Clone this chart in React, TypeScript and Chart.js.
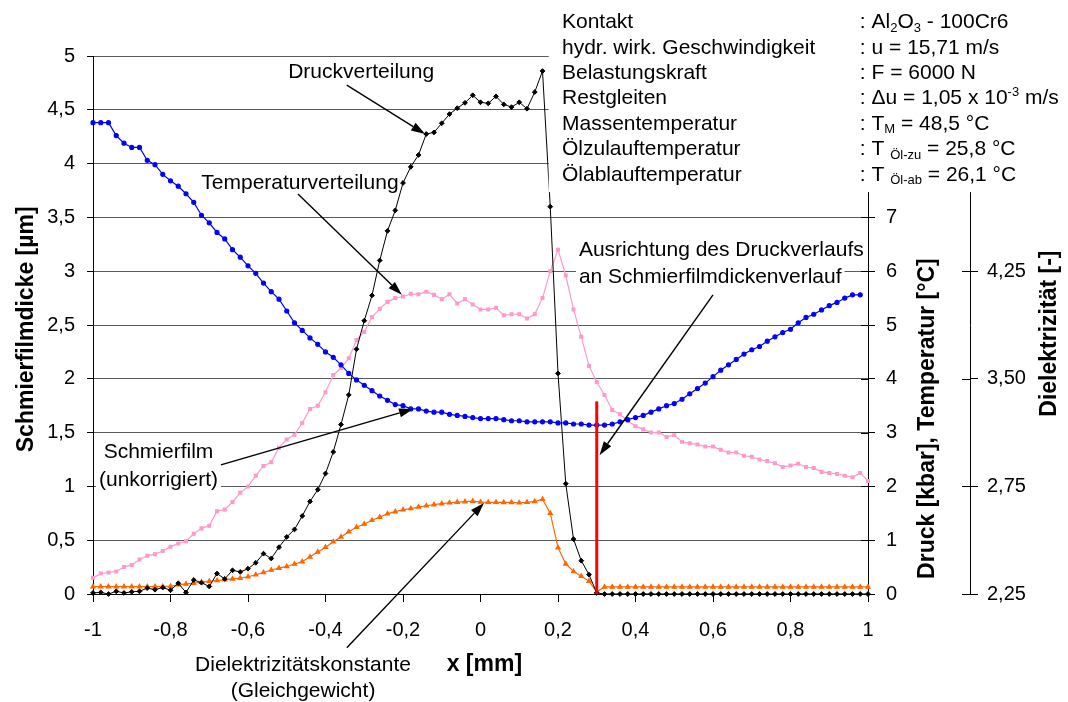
import React, { useEffect, useRef } from "react";
import { Chart, registerables } from "chart.js";

Chart.register(...registerables);

// ---------------- data ----------------
const xPositions = [
  -1, -0.98, -0.96, -0.94, -0.92, -0.9, -0.88, -0.86, -0.84, -0.82,
  -0.8, -0.78, -0.76, -0.74, -0.72, -0.7, -0.68, -0.66, -0.64, -0.62,
  -0.6, -0.58, -0.56, -0.54, -0.52, -0.5, -0.48, -0.46, -0.44, -0.42,
  -0.4, -0.38, -0.36, -0.34, -0.32, -0.3, -0.28, -0.26, -0.24, -0.22,
  -0.2, -0.18, -0.16, -0.14, -0.12, -0.1, -0.08, -0.06, -0.04, -0.02,
  0, 0.02, 0.04, 0.06, 0.08, 0.1, 0.12, 0.14, 0.16, 0.18,
  0.2, 0.22, 0.24, 0.26, 0.28, 0.3, 0.32, 0.34, 0.36, 0.38,
  0.4, 0.42, 0.44, 0.46, 0.48, 0.5, 0.52, 0.54, 0.56, 0.58,
  0.6, 0.62, 0.64, 0.66, 0.68, 0.7, 0.72, 0.74, 0.76, 0.78,
  0.8, 0.82, 0.84, 0.86, 0.88, 0.9, 0.92, 0.94, 0.96, 0.98,
  1,
];

// Schmierfilmdicke [µm] (left axis)
const schmierfilm = [
  4.38, 4.38, 4.38, 4.26, 4.19, 4.15, 4.15, 4.03, 3.99, 3.9,
  3.84, 3.79, 3.72, 3.64, 3.52, 3.45, 3.36, 3.3, 3.2, 3.13,
  3.05, 2.98, 2.89, 2.81, 2.74, 2.63, 2.52, 2.45, 2.38, 2.32,
  2.25, 2.2, 2.13, 2.05, 1.99, 1.94, 1.89, 1.84, 1.8, 1.76,
  1.75, 1.72, 1.72, 1.7, 1.69, 1.69, 1.67, 1.66, 1.65, 1.64,
  1.63, 1.63, 1.63, 1.62, 1.61, 1.61, 1.6, 1.6, 1.6, 1.6,
  1.59, 1.59, 1.58, 1.58, 1.57, 1.57, 1.57, 1.58, 1.6, 1.62,
  1.64, 1.66, 1.69, 1.72, 1.75, 1.77, 1.81, 1.86, 1.91, 1.96,
  2.02, 2.08, 2.13, 2.18, 2.23, 2.27, 2.3, 2.35, 2.39, 2.43,
  2.46, 2.52, 2.57, 2.6, 2.64, 2.68, 2.71, 2.75, 2.78, 2.78,
  null,
];

// Druck [kbar] (right axis)
const druck = [
  0.02, 0.03, 0.0, 0.05, 0.02, 0.04, 0.05, 0.11, 0.08, 0.12,
  0.07, 0.2, 0.03, 0.26, 0.21, 0.14, 0.38, 0.28, 0.44, 0.41,
  0.47, 0.58, 0.75, 0.66, 0.87, 1.06, 1.2, 1.45, 1.72, 1.94,
  2.24, 2.64, 3.15, 3.7, 4.55, 5.08, 5.55, 6.2, 6.75, 7.13,
  7.64, 7.94, 8.16, 8.55, 8.58, 8.75, 8.92, 9.03, 9.13, 9.27,
  9.14, 9.12, 9.25, 9.1, 9.05, 9.14, 9.02, 9.33, 9.72, 7.2,
  4.1, 2.05, 1.02, 0.62, 0.36, 0.02, 0, 0, 0, 0,
  0, 0, 0, 0, 0, 0, 0, 0, 0, 0,
  0, 0, 0, 0, 0, 0, 0, 0, 0, 0,
  0, 0, 0, 0, 0, 0, 0, 0, 0, 0,
  0,
];

// Temperatur [°C] (right axis)
const temperatur = [
  0.3, 0.38, 0.4, 0.42, 0.5, 0.54, 0.64, 0.71, 0.74, 0.8,
  0.88, 0.94, 0.98, 1.12, 1.22, 1.27, 1.54, 1.57, 1.71, 1.88,
  2.0, 2.2, 2.38, 2.45, 2.72, 2.87, 2.96, 3.18, 3.44, 3.5,
  3.75, 4.07, 4.2, 4.38, 4.72, 4.87, 5.15, 5.3, 5.43, 5.5,
  5.53, 5.58, 5.57, 5.62, 5.56, 5.48, 5.57, 5.4, 5.48, 5.38,
  5.29, 5.29, 5.32, 5.18, 5.2, 5.2, 5.12, 5.2, 5.5, 6.0,
  6.4, 5.92, 5.29, 4.78, 4.24, 3.94, 3.7, 3.42, 3.34, 3.22,
  3.12, 3.06, 3.0, 3.0, 2.92, 2.95, 2.83, 2.8, 2.78, 2.74,
  2.74, 2.68, 2.63, 2.63, 2.57, 2.55, 2.5, 2.47, 2.43, 2.36,
  2.39, 2.42, 2.36, 2.34, 2.27, 2.25, 2.23, 2.2, 2.17, 2.25,
  2.1,
];

// Dielektrizitätskonstante [-] (outer right axis)
const dielektrizitaet = [
  2.051, 2.051, 2.051, 2.051, 2.051, 2.051, 2.051, 2.052, 2.052, 2.053,
  2.054, 2.064, 2.07, 2.075, 2.083, 2.089, 2.094, 2.099, 2.105, 2.111,
  2.12, 2.134, 2.15, 2.167, 2.18, 2.192, 2.209, 2.225, 2.259, 2.293,
  2.326, 2.364, 2.398, 2.434, 2.465, 2.488, 2.514, 2.536, 2.559, 2.574,
  2.587, 2.596, 2.606, 2.615, 2.623, 2.63, 2.636, 2.64, 2.644, 2.647,
  2.641, 2.639, 2.639, 2.638, 2.638, 2.636, 2.639, 2.645, 2.66, 2.563,
  2.323, 2.21, 2.158, 2.124, 2.09, 2.015, 2.049, 2.049, 2.049, 2.049,
  2.049, 2.049, 2.049, 2.049, 2.049, 2.049, 2.049, 2.049, 2.049, 2.049,
  2.049, 2.049, 2.049, 2.049, 2.049, 2.049, 2.049, 2.049, 2.049, 2.049,
  2.049, 2.049, 2.049, 2.049, 2.049, 2.049, 2.049, 2.049, 2.049, 2.049,
  2.049,
];

// red marker line (x = 0,3 mm)
const ausrichtungX = [0.3, 0.3];
const ausrichtungY = [0, 1.79];

// axis tick settings / labels
const xTickStep = 0.2;
const filmTickStep = 0.5;
const druckTickStep = 1;
const dielTickStep = 0.75;
const dielTickLabels = ["2,25", "2,75", "3,50", "4,25", "5,00", "5,75"];

// info block
const infoLabels = [
  "Kontakt",
  "hydr. wirk. Geschwindigkeit",
  "Belastungskraft",
  "Restgleiten",
  "Massentemperatur",
  "Ölzulauftemperatur",
  "Ölablauftemperatur",
];
type Seg = { t: string; k?: "sub" | "sup" };
const infoValues: Seg[][] = [
  [{ t: ": Al" }, { t: "2", k: "sub" }, { t: "O" }, { t: "3", k: "sub" }, { t: " - 100Cr6" }],
  [{ t: ": u = 15,71 m/s" }],
  [{ t: ": F = 6000 N" }],
  [{ t: ": \u0394u = 1,05 x 10" }, { t: "-3", k: "sup" }, { t: " m/s" }],
  [{ t: ": T" }, { t: "M", k: "sub" }, { t: " = 48,5 °C" }],
  [{ t: ": T " }, { t: "Öl-zu", k: "sub" }, { t: " = 25,8 °C" }],
  [{ t: ": T " }, { t: "Öl-ab", k: "sub" }, { t: " = 26,1 °C" }],
];

// annotations (positions in data units of x axis / left axis)
const annotations = [
  { lines: ["Druckverteilung"], x: -0.308, y: [4.85], align: "center", bg: false, from: [-0.345, 4.73], to: [-0.143, 4.275] },
  { lines: ["Temperaturverteilung"], x: -0.466, y: [3.82], align: "center", bg: false, from: [-0.471, 3.717], to: [-0.203, 2.78] },
  { lines: ["Schmierfilm", "(unkorrigiert)"], x: -0.831, y: [1.32, 1.06], align: "center", bg: true, from: [-0.67, 1.2], to: [-0.174, 1.72] },
  { lines: ["Dielektrizitätskonstante", "(Gleichgewicht)"], x: -0.458, y: [-0.66, -0.9], align: "center", bg: false, from: [-0.345, -0.5], to: [0.009, 0.846] },
  { lines: ["Ausrichtung des Druckverlaufs", "an Schmierfilmdickenverlauf"], x: 0.254, y: [3.197, 2.946], align: "left", bg: true, from: [0.6, 2.78], to: [0.307, 1.29] },
];

const FF = "'Liberation Sans', Arial, Helvetica, sans-serif";

function fmtComma(v: number, digits = 2): string {
  const f = Math.pow(10, digits);
  let r = Math.round(v * f) / f;
  if (Object.is(r, -0)) r = 0;
  return String(r).replace(".", ",");
}

function drawArrow(ctx: CanvasRenderingContext2D, x1: number, y1: number, x2: number, y2: number) {
  const ang = Math.atan2(y2 - y1, x2 - x1);
  const L = 14;
  const W = 4.5;
  const bx = x2 - L * Math.cos(ang);
  const by = y2 - L * Math.sin(ang);
  ctx.beginPath();
  ctx.moveTo(x1, y1);
  ctx.lineTo(bx, by);
  ctx.stroke();
  ctx.beginPath();
  ctx.moveTo(x2, y2);
  ctx.lineTo(bx + W * Math.sin(ang), by - W * Math.cos(ang));
  ctx.lineTo(bx - W * Math.sin(ang), by + W * Math.cos(ang));
  ctx.closePath();
  ctx.fill();
}

const overlayPlugin = {
  id: "overlay",
  afterDraw(chart: any) {
    const ctx: CanvasRenderingContext2D = chart.ctx;
    const sx = chart.scales.x;
    const sy = chart.scales.y;
    const s1 = chart.scales.y1;
    const s2 = chart.scales.y2;
    ctx.save();

    // inner halves of the crossing tick marks on the right axes
    ctx.strokeStyle = "#000";
    ctx.lineWidth = 1;
    for (const [s, len] of [[s1, 7], [s2, 8]] as any) {
      s.ticks.forEach((t: any) => {
        const py = Math.round(s.getPixelForValue(t.value)) + 0.5;
        ctx.beginPath();
        ctx.moveTo(s.left - len, py);
        ctx.lineTo(s.left, py);
        ctx.stroke();
      });
    }

    // white info box in the upper right
    const boxLeft = sx.getPixelForValue(0.176);
    const boxBottom = sy.getPixelForValue(3.735);
    ctx.fillStyle = "#fff";
    ctx.fillRect(boxLeft, 0, chart.width - boxLeft, boxBottom);

    // info text
    ctx.fillStyle = "#000";
    ctx.textBaseline = "middle";
    ctx.textAlign = "left";
    const labX = sx.getPixelForValue(0.2103);
    const valX = sx.getPixelForValue(0.979);
    const top = sy.getPixelForValue(5.313);
    infoLabels.forEach((lab, i) => {
      const y = top + i * 25.4;
      ctx.font = `21px ${FF}`;
      ctx.fillText(lab, labX, y);
      let cx = valX;
      infoValues[i].forEach((s) => {
        if (s.k === "sub") {
          ctx.font = `13px ${FF}`;
          ctx.fillText(s.t, cx, y + 6);
        } else if (s.k === "sup") {
          ctx.font = `13px ${FF}`;
          ctx.fillText(s.t, cx, y - 6);
        } else {
          ctx.font = `21px ${FF}`;
          ctx.fillText(s.t, cx, y);
        }
        cx += ctx.measureText(s.t).width;
      });
    });

    // annotations
    ctx.font = `21px ${FF}`;
    annotations.forEach((a) => {
      const px = sx.getPixelForValue(a.x);
      ctx.textAlign = a.align as CanvasTextAlign;
      a.lines.forEach((line, i) => {
        const py = sy.getPixelForValue(a.y[i]);
        if (a.bg) {
          const w = ctx.measureText(line).width;
          const left = a.align === "center" ? px - w / 2 : px;
          ctx.fillStyle = "#fff";
          ctx.fillRect(left - 3, py - 13, w + 6, 26);
        }
        ctx.fillStyle = "#000";
        ctx.fillText(line, px, py);
      });
      ctx.strokeStyle = "#000";
      ctx.fillStyle = "#000";
      ctx.lineWidth = 1.4;
      drawArrow(
        ctx,
        sx.getPixelForValue(a.from[0]),
        sy.getPixelForValue(a.from[1]),
        sx.getPixelForValue(a.to[0]),
        sy.getPixelForValue(a.to[1])
      );
    });

    // axis titles
    ctx.fillStyle = "#000";
    ctx.font = `bold 23px ${FF}`;
    ctx.textAlign = "center";
    ctx.textBaseline = "middle";
    const rot = (text: string, x: number, y: number) => {
      ctx.save();
      ctx.translate(x, y);
      ctx.rotate(-Math.PI / 2);
      ctx.fillText(text, 0, 0);
      ctx.restore();
    };
    rot("Schmierfilmdicke [µm]", 27, sy.getPixelForValue(2.46));
    rot("Druck [kbar], Temperatur [°C]", s1.left + 60, sy.getPixelForValue(1.63));
    rot("Dielektrizität [-]", s2.left + 80, sy.getPixelForValue(2.42));
    ctx.fillText("x [mm]", sx.getPixelForValue(0.01), sy.getPixelForValue(-0.66));

    ctx.restore();
  },
};

export default function App() {
  const ref = useRef<HTMLCanvasElement>(null);

  useEffect(() => {
    if (!ref.current) return;
    Chart.defaults.font.family = FF;
    Chart.defaults.font.size = 20;
    Chart.defaults.color = "#000";

    const pts = (ys: (number | null)[]) =>
      xPositions.map((x, i) => ({ x, y: ys[i] })).filter((p) => p.y !== null);

    const chart = new Chart(ref.current, {
      type: "line",
      data: {
        datasets: [
          {
            label: "Ausrichtung",
            data: ausrichtungX.map((x, i) => ({ x, y: ausrichtungY[i] })),
            yAxisID: "y",
            borderColor: "#ff0000",
            borderWidth: 3,
            pointRadius: 0,
            order: 0,
          },
          {
            label: "Druck",
            data: pts(druck),
            yAxisID: "y1",
            borderColor: "#000",
            backgroundColor: "#000",
            borderWidth: 1,
            pointStyle: "rectRot",
            pointRadius: 2.4,
            order: 1,
          },
          {
            label: "Schmierfilm",
            data: pts(schmierfilm),
            yAxisID: "y",
            borderColor: "#0000ff",
            backgroundColor: "#0000ff",
            borderWidth: 1.2,
            pointStyle: "circle",
            pointRadius: 2,
            order: 2,
          },
          {
            label: "Temperatur",
            data: pts(temperatur),
            yAxisID: "y1",
            borderColor: "#ff99cc",
            backgroundColor: "#ff99cc",
            borderWidth: 1.2,
            pointStyle: "rect",
            pointRadius: 2,
            order: 3,
          },
          {
            label: "Dielektrizität",
            data: pts(dielektrizitaet),
            yAxisID: "y2",
            borderColor: "#ff6600",
            backgroundColor: "#ff6600",
            borderWidth: 1.2,
            pointStyle: "triangle",
            pointRadius: 2.4,
            order: 4,
          },
        ],
      },
      options: {
        animation: false,
        responsive: false,
        maintainAspectRatio: false,
        devicePixelRatio: 1,
        clip: false as any,
        elements: { line: { tension: 0 }, point: { borderWidth: 0 } },
        layout: { padding: { top: 56, left: 0, right: 0, bottom: 0 } },
        plugins: { legend: { display: false }, tooltip: { enabled: false } },
        scales: {
          x: {
            type: "linear",
            min: -1,
            max: 1,
            afterFit: (s: any) => { s.height = 108; },
            border: { display: true, color: "#000", width: 1 },
            grid: { display: true, drawOnChartArea: false, drawTicks: true, tickLength: 8, tickColor: "#000" },
            ticks: {
              stepSize: xTickStep,
              autoSkip: false,
              maxRotation: 0,
              padding: 16,
              font: { size: 20 },
              callback: (v: any) => fmtComma(Number(v), 1),
            },
          },
          y: {
            type: "linear",
            position: "left",
            min: 0,
            max: 5,
            afterFit: (s: any) => { s.width = 93; },
            border: { display: true, color: "#000", width: 1 },
            grid: { display: true, color: "#5a5a5a", lineWidth: 1, drawTicks: true, tickLength: 6, tickColor: "#000" },
            ticks: {
              stepSize: filmTickStep,
              padding: 12,
              font: { size: 20 },
              callback: (v: any) => fmtComma(Number(v), 1),
            },
          },
          y1: {
            type: "linear",
            position: "right",
            weight: 0,
            min: 0,
            max: 10,
            afterFit: (s: any) => { s.width = 102; },
            border: { display: true, color: "#000", width: 1 },
            grid: { display: true, drawOnChartArea: false, drawTicks: true, tickLength: 7, tickColor: "#000" },
            ticks: {
              stepSize: druckTickStep,
              padding: 11,
              font: { size: 20 },
              callback: (v: any) => fmtComma(Number(v), 1),
            },
          },
          y2: {
            type: "linear",
            position: "right",
            weight: 1,
            min: 2,
            max: 5.75,
            afterFit: (s: any) => { s.width = 98; },
            border: { display: true, color: "#000", width: 1 },
            grid: { display: true, drawOnChartArea: false, drawTicks: true, tickLength: 8, tickColor: "#000" },
            ticks: {
              stepSize: dielTickStep,
              padding: 9,
              font: { size: 20 },
              callback: (_v: any, i: number) => dielTickLabels[i] ?? "",
            },
          },
        },
      } as any,
      plugins: [overlayPlugin],
    });
    return () => chart.destroy();
  }, []);

  return (
    <div style={{ position: "fixed", left: 0, top: 0, width: 1068, height: 702, background: "#fff" }}>
      <canvas ref={ref} width={1068} height={702} style={{ display: "block", width: 1068, height: 702 }} />
    </div>
  );
}
